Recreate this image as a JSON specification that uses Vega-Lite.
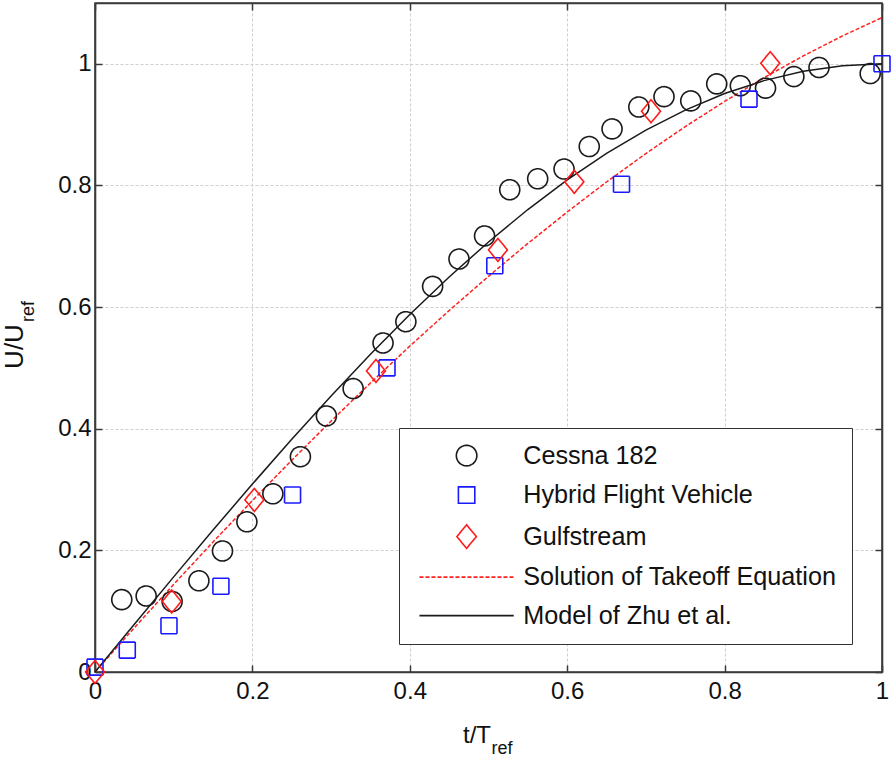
{
  "$schema": "https://vega.github.io/schema/vega-lite/v6.json",
  "width": 787,
  "height": 669,
  "autosize": {"type": "none"},
  "padding": {"left": 95, "top": 3, "right": 12, "bottom": 85},
  "background": "white",
  "config": {
    "view": {"stroke": "#3a3a3a", "strokeWidth": 1.6},
    "axis": {
      "gridColor": "#cfcfcf", "gridDash": [3, 2], "gridWidth": 1,
      "domainColor": "#3a3a3a", "domainWidth": 1.6,
      "tickColor": "#3a3a3a", "tickWidth": 1.5, "tickSize": -7,
      "labelFont": "Liberation Sans", "labelFontSize": 24, "labelColor": "#111",
      "titleFont": "Liberation Sans", "titleColor": "#111", "titleFontWeight": "normal",
      "labelFlush": false, "labelOverlap": false
    }
  },
  "datasets": {
    "points": [
      {"series": "Cessna 182", "t": 0.034, "u": 0.119},
      {"series": "Cessna 182", "t": 0.065, "u": 0.125},
      {"series": "Cessna 182", "t": 0.098, "u": 0.116},
      {"series": "Cessna 182", "t": 0.132, "u": 0.150},
      {"series": "Cessna 182", "t": 0.162, "u": 0.199},
      {"series": "Cessna 182", "t": 0.193, "u": 0.247},
      {"series": "Cessna 182", "t": 0.226, "u": 0.293},
      {"series": "Cessna 182", "t": 0.261, "u": 0.354},
      {"series": "Cessna 182", "t": 0.294, "u": 0.421},
      {"series": "Cessna 182", "t": 0.328, "u": 0.466},
      {"series": "Cessna 182", "t": 0.366, "u": 0.541},
      {"series": "Cessna 182", "t": 0.395, "u": 0.576},
      {"series": "Cessna 182", "t": 0.429, "u": 0.634},
      {"series": "Cessna 182", "t": 0.4625, "u": 0.679},
      {"series": "Cessna 182", "t": 0.495, "u": 0.717},
      {"series": "Cessna 182", "t": 0.527, "u": 0.793},
      {"series": "Cessna 182", "t": 0.5625, "u": 0.811},
      {"series": "Cessna 182", "t": 0.596, "u": 0.827},
      {"series": "Cessna 182", "t": 0.628, "u": 0.864},
      {"series": "Cessna 182", "t": 0.657, "u": 0.893},
      {"series": "Cessna 182", "t": 0.691, "u": 0.929},
      {"series": "Cessna 182", "t": 0.723, "u": 0.946},
      {"series": "Cessna 182", "t": 0.757, "u": 0.939},
      {"series": "Cessna 182", "t": 0.790, "u": 0.967},
      {"series": "Cessna 182", "t": 0.820, "u": 0.964},
      {"series": "Cessna 182", "t": 0.852, "u": 0.960},
      {"series": "Cessna 182", "t": 0.888, "u": 0.979},
      {"series": "Cessna 182", "t": 0.920, "u": 0.994},
      {"series": "Cessna 182", "t": 0.985, "u": 0.984},
      {"series": "Hybrid Flight Vehicle", "t": 0.0, "u": 0.008},
      {"series": "Hybrid Flight Vehicle", "t": 0.041, "u": 0.036},
      {"series": "Hybrid Flight Vehicle", "t": 0.094, "u": 0.076},
      {"series": "Hybrid Flight Vehicle", "t": 0.160, "u": 0.141},
      {"series": "Hybrid Flight Vehicle", "t": 0.251, "u": 0.291},
      {"series": "Hybrid Flight Vehicle", "t": 0.371, "u": 0.500},
      {"series": "Hybrid Flight Vehicle", "t": 0.508, "u": 0.668},
      {"series": "Hybrid Flight Vehicle", "t": 0.669, "u": 0.802},
      {"series": "Hybrid Flight Vehicle", "t": 0.831, "u": 0.942},
      {"series": "Hybrid Flight Vehicle", "t": 1.0, "u": 1.0},
      {"series": "Gulfstream", "t": 0.0, "u": 0.0},
      {"series": "Gulfstream", "t": 0.0975, "u": 0.116},
      {"series": "Gulfstream", "t": 0.2025, "u": 0.283},
      {"series": "Gulfstream", "t": 0.357, "u": 0.495},
      {"series": "Gulfstream", "t": 0.512, "u": 0.694},
      {"series": "Gulfstream", "t": 0.609, "u": 0.806},
      {"series": "Gulfstream", "t": 0.7065, "u": 0.922},
      {"series": "Gulfstream", "t": 0.858, "u": 1.001}
    ],
    "takeoff": [
      {"t": 0.0, "u": 0.0},
      {"t": 0.05, "u": 0.0728},
      {"t": 0.1, "u": 0.1441},
      {"t": 0.15, "u": 0.2138},
      {"t": 0.2, "u": 0.2818},
      {"t": 0.25, "u": 0.3482},
      {"t": 0.3, "u": 0.4126},
      {"t": 0.35, "u": 0.4752},
      {"t": 0.4, "u": 0.5358},
      {"t": 0.45, "u": 0.5943},
      {"t": 0.5, "u": 0.6506},
      {"t": 0.55, "u": 0.7047},
      {"t": 0.6, "u": 0.7564},
      {"t": 0.65, "u": 0.8057},
      {"t": 0.7, "u": 0.8525},
      {"t": 0.75, "u": 0.8967},
      {"t": 0.8, "u": 0.9382},
      {"t": 0.85, "u": 0.9771},
      {"t": 0.9, "u": 1.0130},
      {"t": 0.95, "u": 1.0460},
      {"t": 1.0, "u": 1.076}
    ],
    "zhu": [
      {"t": 0.0, "u": 0.0},
      {"t": 0.05, "u": 0.0785},
      {"t": 0.1, "u": 0.1564},
      {"t": 0.15, "u": 0.2334},
      {"t": 0.2, "u": 0.3090},
      {"t": 0.25, "u": 0.3827},
      {"t": 0.3, "u": 0.4540},
      {"t": 0.35, "u": 0.5225},
      {"t": 0.4, "u": 0.5878},
      {"t": 0.45, "u": 0.6494},
      {"t": 0.5, "u": 0.7071},
      {"t": 0.55, "u": 0.7604},
      {"t": 0.6, "u": 0.8090},
      {"t": 0.65, "u": 0.8526},
      {"t": 0.7, "u": 0.8910},
      {"t": 0.75, "u": 0.9239},
      {"t": 0.8, "u": 0.9511},
      {"t": 0.85, "u": 0.9724},
      {"t": 0.9, "u": 0.9877},
      {"t": 0.95, "u": 0.9969},
      {"t": 1.0, "u": 1.0}
    ]
  },
  "layer": [
    {
      "data": {"name": "takeoff"},
      "mark": {"type": "line", "strokeWidth": 1.5, "color": "#ff2020", "strokeDash": [4, 2]},
      "encoding": {
        "x": {
          "field": "t", "type": "quantitative",
          "scale": {"domain": [0, 1], "nice": false, "zero": false},
          "axis": {
            "orient": "bottom", "values": [0, 0.2, 0.4, 0.6, 0.8, 1], "format": "~g",
            "labelPadding": 14, "grid": true,
            "title": "t/T", "titleFontSize": 24, "titleX": 381.5, "titleY": 70,
            "titleBaseline": "alphabetic", "titleAlign": "center"
          }
        },
        "y": {
          "field": "u", "type": "quantitative",
          "scale": {"domain": [0, 1.1], "nice": false, "zero": false},
          "axis": {
            "orient": "left", "values": [0, 0.2, 0.4, 0.6, 0.8, 1], "format": "~g",
            "labelPadding": 11, "grid": true,
            "title": "U/U", "titleFontSize": 26, "titleAngle": 270, "titleX": -73, "titleY": 343,
            "titleBaseline": "alphabetic", "titleAlign": "center"
          }
        }
      }
    },
    {
      "data": {"name": "zhu"},
      "mark": {"type": "line", "strokeWidth": 1.5, "color": "#1a1a1a"},
      "encoding": {
        "x": {"field": "t", "type": "quantitative", "axis": null},
        "y": {"field": "u", "type": "quantitative", "axis": null}
      }
    },
    {
      "data": {"name": "points"},
      "mark": {"type": "point", "filled": false, "size": 400, "strokeWidth": 1.6, "opacity": 1, "clip": false},
      "encoding": {
        "x": {
          "field": "t", "type": "quantitative",
          "axis": {
            "orient": "top", "values": [0, 0.2, 0.4, 0.6, 0.8, 1], "labels": false, "grid": false,
            "title": "ref", "titleFontSize": 18, "titleX": 406.5, "titleY": 750,
            "titleBaseline": "alphabetic", "titleAlign": "center"
          }
        },
        "y": {
          "field": "u", "type": "quantitative",
          "axis": {
            "orient": "right", "values": [0, 0.2, 0.4, 0.6, 0.8, 1], "labels": false, "grid": false,
            "title": "ref", "titleFontSize": 18, "titleAngle": 270, "titleX": -849, "titleY": 308,
            "titleBaseline": "alphabetic", "titleAlign": "center"
          }
        },
        "color": {
          "field": "series", "type": "nominal",
          "scale": {
            "domain": ["Cessna 182", "Hybrid Flight Vehicle", "Gulfstream", "Solution of Takeoff Equation", "Model of Zhu et al."],
            "range": ["#1a1a1a", "#1a1aff", "#ff1a1a", "#ff2020", "#1a1a1a"]
          },
          "legend": {
            "orient": "none", "legendX": 304, "legendY": 425, "title": null, "direction": "vertical",
            "strokeColor": "#333", "fillColor": "white", "padding": 15,
            "labelFont": "Liberation Sans", "labelFontSize": 25.2, "labelColor": "#111", "labelLimit": 0,
            "symbolSize": 420, "symbolStrokeWidth": 1.6, "symbolOffset": 40, "labelOffset": 44, "rowPadding": 12.5,
            "encode": {
              "legend": {"update": {"strokeWidth": {"value": 1.6}}},
              "symbols": {"update": {"fill": {"value": "transparent"}}}
            }
          }
        },
        "shape": {
          "field": "series", "type": "nominal",
          "scale": {
            "domain": ["Cessna 182", "Hybrid Flight Vehicle", "Gulfstream", "Solution of Takeoff Equation", "Model of Zhu et al."],
            "range": ["circle", "M-0.8,-0.8L0.8,-0.8L0.8,0.8L-0.8,0.8Z", "M0,-1.15L0.95,0L0,1.15L-0.95,0Z", "M-4.6,0L4.6,0", "M-4.6,0L4.6,0"]
          }
        },
        "strokeDash": {
          "field": "series", "type": "nominal",
          "scale": {
            "domain": ["Cessna 182", "Hybrid Flight Vehicle", "Gulfstream", "Solution of Takeoff Equation", "Model of Zhu et al."],
            "range": [[1, 0], [1, 0], [1, 0], [4, 2], [1, 0]]
          }
        }
      }
    }
  ],
  "resolve": {"axis": {"x": "independent", "y": "independent"}}
}
